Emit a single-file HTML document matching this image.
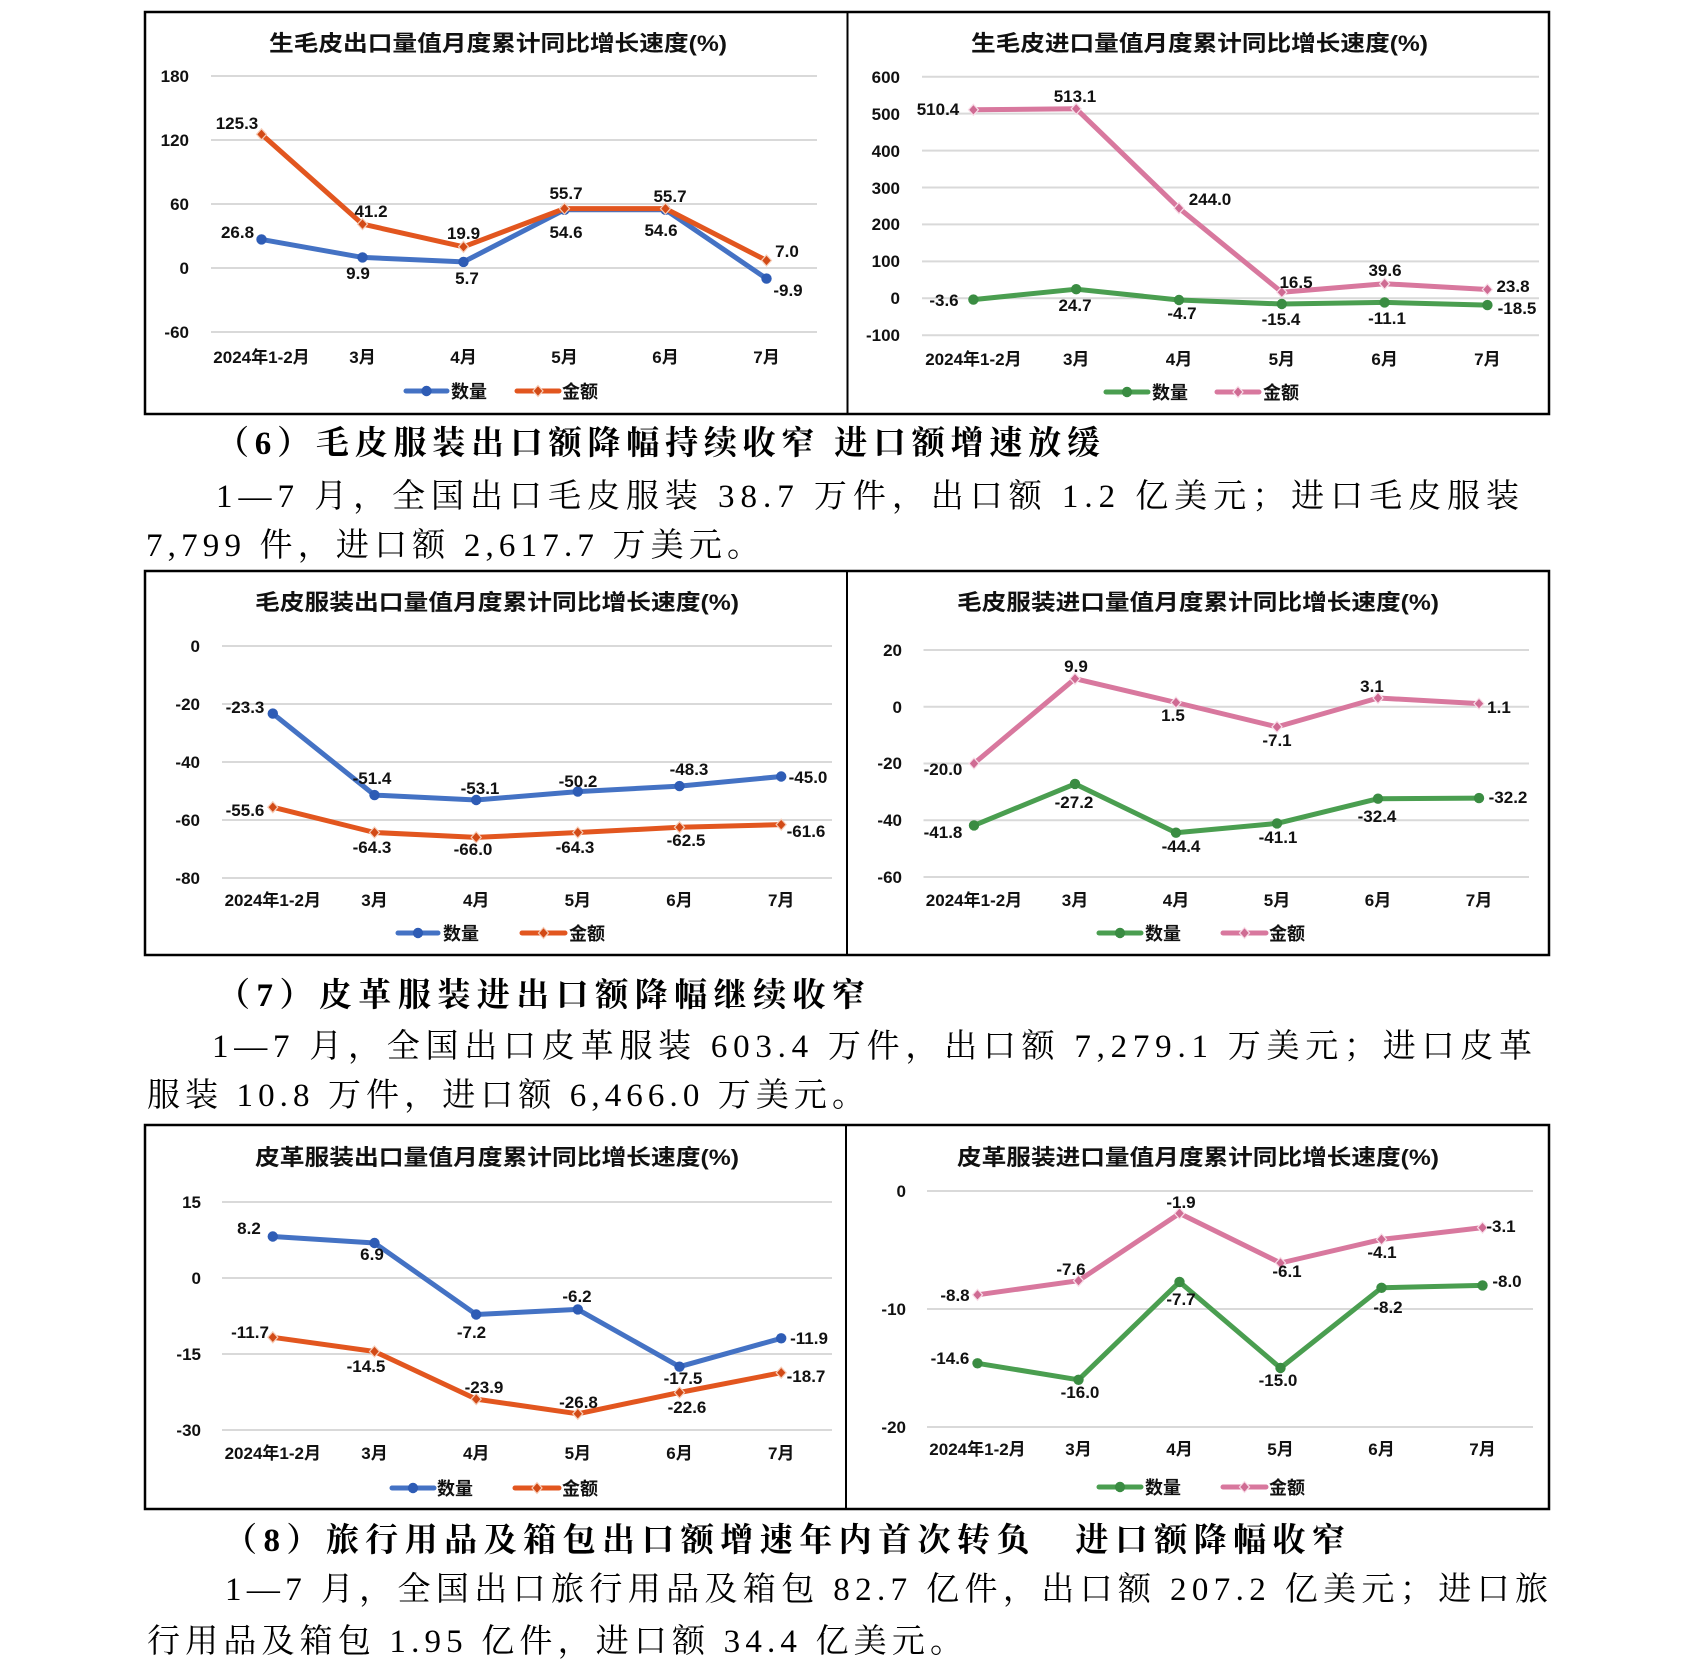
<!DOCTYPE html>
<html>
<head>
<meta charset="utf-8">
<style>
html,body{margin:0;padding:0;background:#fff;}
svg{display:block;}
.n{font-family:"Liberation Sans","Noto Sans CJK SC",sans-serif;font-weight:bold;font-size:17px;fill:#111;text-anchor:middle;}
.ya{font-family:"Liberation Sans","Noto Sans CJK SC",sans-serif;font-weight:bold;font-size:17px;fill:#111;text-anchor:end;}
.cat{font-family:"Liberation Sans","Noto Sans CJK SC",sans-serif;font-weight:bold;font-size:17px;fill:#111;text-anchor:middle;}
.t{font-family:"Liberation Sans","Noto Sans CJK SC",sans-serif;font-weight:bold;font-size:22px;fill:#111;}
.lg{font-family:"Liberation Sans","Noto Sans CJK SC",sans-serif;font-weight:bold;font-size:18px;fill:#111;}
.b{font-family:"Liberation Serif","Noto Serif CJK SC",serif;font-size:33px;fill:#000;}
.h{font-family:"Liberation Serif","Noto Serif CJK SC",serif;font-weight:bold;font-size:33px;fill:#000;}
.g{stroke:#d9d9d9;stroke-width:2;}
.s{fill:none;stroke-width:5;stroke-linejoin:round;stroke-linecap:round;}
.blue{stroke:#4472c4;marker-start:url(#mb);marker-mid:url(#mb);marker-end:url(#mb);}
.org{stroke:#e2561f;marker-start:url(#mo);marker-mid:url(#mo);marker-end:url(#mo);}
.grn{stroke:#4a9e50;marker-start:url(#mg);marker-mid:url(#mg);marker-end:url(#mg);}
.pnk{stroke:#d8789e;marker-start:url(#mp);marker-mid:url(#mp);marker-end:url(#mp);}
.lblue{stroke:#4472c4;marker-mid:url(#mb);}
.lorg{stroke:#e2561f;marker-mid:url(#mo);}
.lgrn{stroke:#4a9e50;marker-mid:url(#mg);}
.lpnk{stroke:#d8789e;marker-mid:url(#mp);}
.box{fill:none;stroke:#000;stroke-width:2.5;}
.div{stroke:#000;stroke-width:2;}
</style>
</head>
<body>
<svg width="1696" height="1677" viewBox="0 0 1696 1677" xmlns="http://www.w3.org/2000/svg">
<defs>
<marker id="mb" viewBox="-7 -7 14 14" markerWidth="14" markerHeight="14" markerUnits="userSpaceOnUse" refX="0" refY="0"><circle r="5.2" fill="#2e5cb5"/></marker>
<marker id="mg" viewBox="-7 -7 14 14" markerWidth="14" markerHeight="14" markerUnits="userSpaceOnUse" refX="0" refY="0"><circle r="5.2" fill="#3a8c42"/></marker>
<marker id="mo" viewBox="-7 -7 14 14" markerWidth="14" markerHeight="14" markerUnits="userSpaceOnUse" refX="0" refY="0"><polygon points="0,-5.5 5,0 0,5.5 -5,0" fill="#d24a16" stroke="#f6cdb8" stroke-width="1.2"/></marker>
<marker id="mp" viewBox="-7 -7 14 14" markerWidth="14" markerHeight="14" markerUnits="userSpaceOnUse" refX="0" refY="0"><polygon points="0,-5.5 5,0 0,5.5 -5,0" fill="#cf6b93" stroke="#f8dde8" stroke-width="1.2"/></marker>
</defs>
<rect x="0" y="0" width="1696" height="1677" fill="#fff"/>

<!-- ================= BOX 1 ================= -->
<rect class="box" x="145" y="12" width="1404" height="402"/>
<line class="div" x1="847.5" y1="12" x2="847.5" y2="414"/>

<!-- Chart 1 -->
<text class="t" x="269" y="51" textLength="458" lengthAdjust="spacingAndGlyphs">生毛皮出口量值月度累计同比增长速度(%)</text>
<line class="g" x1="211" y1="76" x2="817" y2="76"/>
<line class="g" x1="211" y1="140" x2="817" y2="140"/>
<line class="g" x1="211" y1="204" x2="817" y2="204"/>
<line class="g" x1="211" y1="268" x2="817" y2="268"/>
<line class="g" x1="211" y1="332" x2="817" y2="332"/>
<text class="ya" x="189" y="82">180</text>
<text class="ya" x="189" y="146">120</text>
<text class="ya" x="189" y="210">60</text>
<text class="ya" x="189" y="274">0</text>
<text class="ya" x="189" y="338">-60</text>
<text class="cat" x="261.5" y="363">2024年1-2月</text>
<text class="cat" x="362.5" y="363">3月</text>
<text class="cat" x="463.5" y="363">4月</text>
<text class="cat" x="564.5" y="363">5月</text>
<text class="cat" x="665.5" y="363">6月</text>
<text class="cat" x="766.5" y="363">7月</text>
<polyline class="s blue" points="261.5,239.4 362.5,257.4 463.5,261.9 564.5,209.8 665.5,209.8 766.5,278.6"/>
<polyline class="s org" points="261.5,134.3 362.5,224.1 463.5,246.8 564.5,208.6 665.5,208.6 766.5,260.5"/>
<text class="n" x="237" y="129">125.3</text>
<text class="n" x="371" y="217">41.2</text>
<text class="n" x="463.5" y="239">19.9</text>
<text class="n" x="566" y="199">55.7</text>
<text class="n" x="670" y="202">55.7</text>
<text class="n" x="787" y="257">7.0</text>
<text class="n" x="237.5" y="238">26.8</text>
<text class="n" x="358" y="279">9.9</text>
<text class="n" x="467" y="284">5.7</text>
<text class="n" x="566" y="238">54.6</text>
<text class="n" x="661" y="236">54.6</text>
<text class="n" x="788" y="296">-9.9</text>
<polyline class="s lblue" points="406,391 426.5,391 447,391"/>
<text class="lg" x="451" y="398">数量</text>
<polyline class="s lorg" points="517,391 538,391 559,391"/>
<text class="lg" x="562" y="398">金额</text>

<!-- Chart 2 -->
<text class="t" x="971" y="51" textLength="457" lengthAdjust="spacingAndGlyphs">生毛皮进口量值月度累计同比增长速度(%)</text>
<line class="g" x1="922" y1="76.7" x2="1539" y2="76.7"/>
<line class="g" x1="922" y1="113.6" x2="1539" y2="113.6"/>
<line class="g" x1="922" y1="150.6" x2="1539" y2="150.6"/>
<line class="g" x1="922" y1="187.5" x2="1539" y2="187.5"/>
<line class="g" x1="922" y1="224.4" x2="1539" y2="224.4"/>
<line class="g" x1="922" y1="261.4" x2="1539" y2="261.4"/>
<line class="g" x1="922" y1="298.3" x2="1539" y2="298.3"/>
<line class="g" x1="922" y1="335.2" x2="1539" y2="335.2"/>
<text class="ya" x="900" y="83">600</text>
<text class="ya" x="900" y="120">500</text>
<text class="ya" x="900" y="157">400</text>
<text class="ya" x="900" y="194">300</text>
<text class="ya" x="900" y="230">200</text>
<text class="ya" x="900" y="267">100</text>
<text class="ya" x="900" y="304">0</text>
<text class="ya" x="900" y="341">-100</text>
<text class="cat" x="973.4" y="365">2024年1-2月</text>
<text class="cat" x="1076.2" y="365">3月</text>
<text class="cat" x="1179" y="365">4月</text>
<text class="cat" x="1281.8" y="365">5月</text>
<text class="cat" x="1384.6" y="365">6月</text>
<text class="cat" x="1487.4" y="365">7月</text>
<polyline class="s grn" points="973.4,299.6 1076.2,289.2 1179,300.0 1281.8,304.0 1384.6,302.4 1487.4,305.1"/>
<polyline class="s pnk" points="973.4,109.8 1076.2,108.8 1179,208.2 1281.8,292.2 1384.6,283.7 1487.4,289.5"/>
<text class="n" x="938" y="115">510.4</text>
<text class="n" x="1075" y="102">513.1</text>
<text class="n" x="1210" y="205">244.0</text>
<text class="n" x="1296" y="288">16.5</text>
<text class="n" x="1385" y="276">39.6</text>
<text class="n" x="1513" y="292">23.8</text>
<text class="n" x="944" y="306">-3.6</text>
<text class="n" x="1075" y="311">24.7</text>
<text class="n" x="1182" y="319">-4.7</text>
<text class="n" x="1281" y="325">-15.4</text>
<text class="n" x="1387" y="324">-11.1</text>
<text class="n" x="1517" y="314">-18.5</text>
<polyline class="s lgrn" points="1106,392 1127,392 1148,392"/>
<text class="lg" x="1152" y="399">数量</text>
<polyline class="s lpnk" points="1217,392 1238,392 1259,392"/>
<text class="lg" x="1263" y="399">金额</text>

<!-- ================= TEXT (6) ================= -->
<text class="h" x="216" y="454" textLength="884" lengthAdjust="spacing">（6）毛皮服装出口额降幅持续收窄 进口额增速放缓</text>
<text class="b" x="216" y="507" textLength="1303" lengthAdjust="spacing">1—7 月，全国出口毛皮服装 38.7 万件，出口额 1.2 亿美元；进口毛皮服装</text>
<text class="b" x="146" y="556" textLength="614" lengthAdjust="spacing">7,799 件，进口额 2,617.7 万美元。</text>

<!-- ================= BOX 2 ================= -->
<rect class="box" x="145" y="571" width="1404" height="384"/>
<line class="div" x1="847" y1="571" x2="847" y2="955"/>

<!-- Chart 3 -->
<text class="t" x="255" y="610" textLength="484" lengthAdjust="spacingAndGlyphs">毛皮服装出口量值月度累计同比增长速度(%)</text>
<line class="g" x1="222" y1="646" x2="832" y2="646"/>
<line class="g" x1="222" y1="704" x2="832" y2="704"/>
<line class="g" x1="222" y1="762" x2="832" y2="762"/>
<line class="g" x1="222" y1="820" x2="832" y2="820"/>
<line class="g" x1="222" y1="878" x2="832" y2="878"/>
<text class="ya" x="200" y="652">0</text>
<text class="ya" x="200" y="710">-20</text>
<text class="ya" x="200" y="768">-40</text>
<text class="ya" x="200" y="826">-60</text>
<text class="ya" x="200" y="884">-80</text>
<text class="cat" x="272.8" y="906">2024年1-2月</text>
<text class="cat" x="374.5" y="906">3月</text>
<text class="cat" x="476.2" y="906">4月</text>
<text class="cat" x="577.8" y="906">5月</text>
<text class="cat" x="679.5" y="906">6月</text>
<text class="cat" x="781.2" y="906">7月</text>
<polyline class="s blue" points="272.8,713.6 374.5,795.1 476.2,800.0 577.8,791.6 679.5,786.1 781.2,776.5"/>
<polyline class="s org" points="272.8,807.2 374.5,832.5 476.2,837.4 577.8,832.5 679.5,827.3 781.2,824.6"/>
<text class="n" x="245" y="713">-23.3</text>
<text class="n" x="372" y="784">-51.4</text>
<text class="n" x="480" y="794">-53.1</text>
<text class="n" x="578" y="787">-50.2</text>
<text class="n" x="689" y="775">-48.3</text>
<text class="n" x="808" y="783">-45.0</text>
<text class="n" x="245" y="816">-55.6</text>
<text class="n" x="372" y="853">-64.3</text>
<text class="n" x="473" y="855">-66.0</text>
<text class="n" x="575" y="853">-64.3</text>
<text class="n" x="686" y="846">-62.5</text>
<text class="n" x="806" y="837">-61.6</text>
<polyline class="s lblue" points="398,933 418,933 438,933"/>
<text class="lg" x="443" y="940">数量</text>
<polyline class="s lorg" points="522,933 543.5,933 565,933"/>
<text class="lg" x="569" y="940">金额</text>

<!-- Chart 4 -->
<text class="t" x="957" y="610" textLength="482" lengthAdjust="spacingAndGlyphs">毛皮服装进口量值月度累计同比增长速度(%)</text>
<line class="g" x1="923.5" y1="650" x2="1529" y2="650"/>
<line class="g" x1="923.5" y1="706.75" x2="1529" y2="706.75"/>
<line class="g" x1="923.5" y1="763.5" x2="1529" y2="763.5"/>
<line class="g" x1="923.5" y1="820.3" x2="1529" y2="820.3"/>
<line class="g" x1="923.5" y1="877" x2="1529" y2="877"/>
<text class="ya" x="902" y="656">20</text>
<text class="ya" x="902" y="713">0</text>
<text class="ya" x="902" y="769">-20</text>
<text class="ya" x="902" y="826">-40</text>
<text class="ya" x="902" y="883">-60</text>
<text class="cat" x="974" y="906">2024年1-2月</text>
<text class="cat" x="1075" y="906">3月</text>
<text class="cat" x="1176" y="906">4月</text>
<text class="cat" x="1277" y="906">5月</text>
<text class="cat" x="1378" y="906">6月</text>
<text class="cat" x="1479" y="906">7月</text>
<polyline class="s grn" points="974,825.4 1075,783.9 1176,832.7 1277,823.4 1378,798.7 1479,798.1"/>
<polyline class="s pnk" points="974,763.5 1075,678.7 1176,702.5 1277,726.9 1378,698.0 1479,703.6"/>
<text class="n" x="943" y="775">-20.0</text>
<text class="n" x="1076" y="672">9.9</text>
<text class="n" x="1173" y="721">1.5</text>
<text class="n" x="1277" y="746">-7.1</text>
<text class="n" x="1372" y="692">3.1</text>
<text class="n" x="1499" y="713">1.1</text>
<text class="n" x="943" y="838">-41.8</text>
<text class="n" x="1074" y="808">-27.2</text>
<text class="n" x="1181" y="852">-44.4</text>
<text class="n" x="1278" y="843">-41.1</text>
<text class="n" x="1377" y="822">-32.4</text>
<text class="n" x="1508" y="803">-32.2</text>
<polyline class="s lgrn" points="1099,933 1120,933 1141,933"/>
<text class="lg" x="1145" y="940">数量</text>
<polyline class="s lpnk" points="1223,933 1244.5,933 1266,933"/>
<text class="lg" x="1269" y="940">金额</text>

<!-- ================= TEXT (7) ================= -->
<text class="h" x="217" y="1006" textLength="648" lengthAdjust="spacing">（7）皮革服装进出口额降幅继续收窄</text>
<text class="b" x="212" y="1057" textLength="1320" lengthAdjust="spacing">1—7 月，全国出口皮革服装 603.4 万件，出口额 7,279.1 万美元；进口皮革</text>
<text class="b" x="147" y="1106" textLength="718" lengthAdjust="spacing">服装 10.8 万件，进口额 6,466.0 万美元。</text>

<!-- ================= BOX 3 ================= -->
<rect class="box" x="145" y="1125" width="1404" height="384"/>
<line class="div" x1="846" y1="1125" x2="846" y2="1509"/>

<!-- Chart 5 -->
<text class="t" x="255" y="1165" textLength="484" lengthAdjust="spacingAndGlyphs">皮革服装出口量值月度累计同比增长速度(%)</text>
<line class="g" x1="222" y1="1202" x2="832" y2="1202"/>
<line class="g" x1="222" y1="1278" x2="832" y2="1278"/>
<line class="g" x1="222" y1="1354" x2="832" y2="1354"/>
<line class="g" x1="222" y1="1430" x2="832" y2="1430"/>
<text class="ya" x="201" y="1208">15</text>
<text class="ya" x="201" y="1284">0</text>
<text class="ya" x="201" y="1360">-15</text>
<text class="ya" x="201" y="1436">-30</text>
<text class="cat" x="272.8" y="1459">2024年1-2月</text>
<text class="cat" x="374.5" y="1459">3月</text>
<text class="cat" x="476.2" y="1459">4月</text>
<text class="cat" x="577.8" y="1459">5月</text>
<text class="cat" x="679.5" y="1459">6月</text>
<text class="cat" x="781.2" y="1459">7月</text>
<polyline class="s blue" points="272.8,1236.5 374.5,1243.0 476.2,1314.5 577.8,1309.4 679.5,1366.7 781.2,1338.3"/>
<polyline class="s org" points="272.8,1337.3 374.5,1351.5 476.2,1399.1 577.8,1413.8 679.5,1392.5 781.2,1372.7"/>
<text class="n" x="249" y="1234">8.2</text>
<text class="n" x="372" y="1260">6.9</text>
<text class="n" x="471.5" y="1338">-7.2</text>
<text class="n" x="577" y="1302">-6.2</text>
<text class="n" x="683" y="1384">-17.5</text>
<text class="n" x="809" y="1344">-11.9</text>
<text class="n" x="250" y="1338">-11.7</text>
<text class="n" x="366" y="1372">-14.5</text>
<text class="n" x="484" y="1393">-23.9</text>
<text class="n" x="578.5" y="1408">-26.8</text>
<text class="n" x="687" y="1413">-22.6</text>
<text class="n" x="806" y="1382">-18.7</text>
<polyline class="s lblue" points="392,1488 413,1488 434,1488"/>
<text class="lg" x="437" y="1495">数量</text>
<polyline class="s lorg" points="515,1488 537,1488 559,1488"/>
<text class="lg" x="562" y="1495">金额</text>

<!-- Chart 6 -->
<text class="t" x="957" y="1165" textLength="482" lengthAdjust="spacingAndGlyphs">皮革服装进口量值月度累计同比增长速度(%)</text>
<line class="g" x1="927" y1="1191" x2="1533" y2="1191"/>
<line class="g" x1="927" y1="1309" x2="1533" y2="1309"/>
<line class="g" x1="927" y1="1427" x2="1533" y2="1427"/>
<text class="ya" x="906" y="1197">0</text>
<text class="ya" x="906" y="1315">-10</text>
<text class="ya" x="906" y="1433">-20</text>
<text class="cat" x="977.5" y="1455">2024年1-2月</text>
<text class="cat" x="1078.5" y="1455">3月</text>
<text class="cat" x="1179.5" y="1455">4月</text>
<text class="cat" x="1280.5" y="1455">5月</text>
<text class="cat" x="1381.5" y="1455">6月</text>
<text class="cat" x="1482.5" y="1455">7月</text>
<polyline class="s grn" points="977.5,1363.3 1078.5,1379.8 1179.5,1281.9 1280.5,1368.0 1381.5,1287.8 1482.5,1285.4"/>
<polyline class="s pnk" points="977.5,1294.8 1078.5,1280.7 1179.5,1213.4 1280.5,1263.0 1381.5,1239.4 1482.5,1227.6"/>
<text class="n" x="955" y="1301">-8.8</text>
<text class="n" x="1071" y="1275">-7.6</text>
<text class="n" x="1181" y="1208">-1.9</text>
<text class="n" x="1287" y="1277">-6.1</text>
<text class="n" x="1382" y="1258">-4.1</text>
<text class="n" x="1501" y="1232">-3.1</text>
<text class="n" x="950" y="1364">-14.6</text>
<text class="n" x="1080" y="1398">-16.0</text>
<text class="n" x="1181" y="1305">-7.7</text>
<text class="n" x="1278" y="1386">-15.0</text>
<text class="n" x="1388" y="1313">-8.2</text>
<text class="n" x="1507" y="1287">-8.0</text>
<polyline class="s lgrn" points="1099,1487 1120,1487 1141,1487"/>
<text class="lg" x="1145" y="1494">数量</text>
<polyline class="s lpnk" points="1223,1487 1244.5,1487 1266,1487"/>
<text class="lg" x="1269" y="1494">金额</text>

<!-- ================= TEXT (8) ================= -->
<text class="h" x="224" y="1551" textLength="1121" lengthAdjust="spacing">（8）旅行用品及箱包出口额增速年内首次转负　进口额降幅收窄</text>
<text class="b" x="225" y="1600" textLength="1323" lengthAdjust="spacing">1—7 月，全国出口旅行用品及箱包 82.7 亿件，出口额 207.2 亿美元；进口旅</text>
<text class="b" x="147" y="1652" textLength="816" lengthAdjust="spacing">行用品及箱包 1.95 亿件，进口额 34.4 亿美元。</text>
</svg>
</body>
</html>
